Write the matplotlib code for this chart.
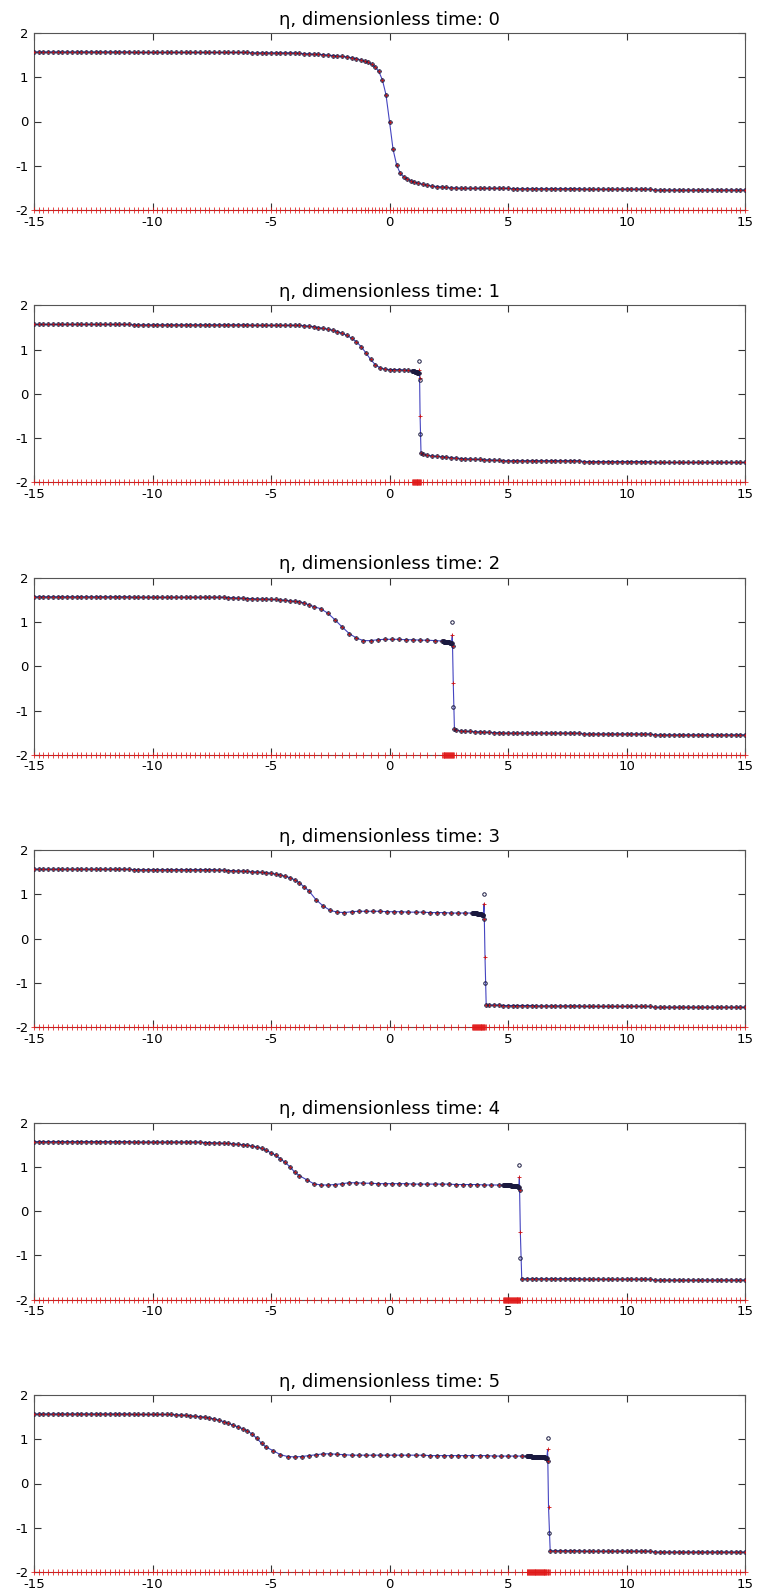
import numpy as np
import matplotlib.pyplot as plt

plt.rcParams['axes.unicode_minus'] = False
plt.rcParams['font.family'] = ['DejaVu Sans']

times = [0, 1, 2, 3, 4, 5]

# mesh pieces of each panel: first node and spacing, eta values read at the nodes below
seg_start = [
    [-15.0, -1.05, 1.2],
    [-15.0, 0.96, 1.4],
    [-15.0, -2.9, 2.26, 2.8],
    [-15.0, -3.1, 3.52, 4.2],
    [-15.0, -3.5, 4.8, 5.8],
    [-15.0, -4.9, 5.8, 7.0],
]
seg_step = [
    [0.2, 0.15, 0.2],
    [0.2, 0.02, 0.2],
    [0.2, 0.3, 0.02, 0.2],
    [0.2, 0.3, 0.02, 0.2],
    [0.2, 0.3, 0.02, 0.2],
    [0.2, 0.3, 0.02, 0.2],
]

eta_t0 = [
    [1.57] * 21 + [1.56] * 25 + [1.55] * 10
    + [1.54, 1.53, 1.53, 1.52, 1.52, 1.51, 1.50, 1.49, 1.48, 1.47, 1.46, 1.44, 1.42, 1.39],
    [1.36, 1.34, 1.29, 1.23, 1.13, 0.94, 0.61, 0.0, -0.63, -0.98, -1.17, -1.25, -1.30, -1.34, -1.37],
    [-1.39, -1.42, -1.44, -1.46, -1.47, -1.48, -1.49, -1.50, -1.50, -1.51]
    + [-1.51] * 10 + [-1.52] * 15 + [-1.53] * 15 + [-1.55] * 20,
]
eta_t1 = [
    [1.57] * 21 + [1.56] * 25 + [1.55] * 9
    + [1.55, 1.55, 1.54, 1.53, 1.52, 1.50, 1.48, 1.46, 1.44, 1.41, 1.37, 1.32, 1.26,
       1.18, 1.07, 0.93, 0.78, 0.66, 0.59, 0.56, 0.55, 0.55, 0.55, 0.54, 0.53],
    [0.52, 0.52, 0.51, 0.51, 0.51, 0.50, 0.50, 0.50, 0.49, 0.49, 0.49, 0.48, 0.48, 0.48, 0.47],
    [-1.36, -1.39, -1.40, -1.41, -1.42, -1.43, -1.44, -1.45, -1.46, -1.47, -1.47, -1.48,
     -1.48, -1.49, -1.49, -1.50, -1.50] + [-1.51] * 17 + [-1.53] * 15 + [-1.55] * 20,
]
eta_t2 = [
    [1.57] * 21 + [1.56] * 20 + [1.55, 1.55, 1.54, 1.54, 1.53, 1.53, 1.52]
    + [1.52, 1.52, 1.51, 1.51, 1.50, 1.49, 1.48, 1.47, 1.46, 1.43, 1.39, 1.35],
    [1.30, 1.20, 1.05, 0.89, 0.74, 0.64, 0.58, 0.58, 0.60, 0.61, 0.61, 0.61, 0.60, 0.60,
     0.59, 0.59, 0.58, 0.57],
    [0.57] * 2 + [0.56] * 4 + [0.55] * 4 + [0.54] * 4 + [0.53] * 3 + [0.52] * 2,
    [-1.44, -1.46, -1.47, -1.47, -1.48, -1.48, -1.49, -1.49, -1.50, -1.50]
    + [-1.51] * 17 + [-1.53] * 15 + [-1.55] * 20,
]
eta_t3 = [
    [1.57] * 21 + [1.56] * 18
    + [1.55, 1.55, 1.54, 1.54, 1.53, 1.53, 1.52, 1.51, 1.51, 1.50, 1.49, 1.48, 1.46, 1.44,
       1.41, 1.38, 1.33, 1.26, 1.17, 1.08],
    [0.88, 0.74, 0.64, 0.60, 0.59, 0.61, 0.62, 0.62, 0.62, 0.62, 0.61, 0.61, 0.61, 0.60,
     0.60, 0.60, 0.59, 0.59, 0.59, 0.58, 0.58, 0.58, 0.58],
    [0.58] * 4 + [0.57] * 5 + [0.56] * 5 + [0.55] * 5 + [0.54] * 4,
    [-1.50] * 3 + [-1.51] * 7 + [-1.52] * 10 + [-1.53] * 15 + [-1.55] * 20,
]
eta_t4 = [
    [1.57] * 21 + [1.56] * 15
    + [1.55, 1.55, 1.54, 1.54, 1.53, 1.53, 1.52, 1.51, 1.50, 1.49, 1.47, 1.45, 1.42, 1.37,
       1.32, 1.26, 1.18, 1.10, 1.00, 0.88, 0.80],
    [0.71, 0.62, 0.59, 0.59, 0.60, 0.62, 0.64, 0.64, 0.63, 0.63, 0.62, 0.62, 0.62, 0.62,
     0.62, 0.61, 0.61, 0.61, 0.61, 0.61, 0.61, 0.60, 0.60, 0.60, 0.60, 0.59, 0.59, 0.59],
    [0.59] * 8 + [0.58] * 9 + [0.57] * 9 + [0.56] * 5 + [0.55] * 3,
    [-1.53] * 12 + [-1.54] * 15 + [-1.56] * 20,
]
eta_t5 = [
    [1.57] * 21 + [1.56] * 9
    + [1.55, 1.55, 1.54, 1.53, 1.52, 1.51, 1.50, 1.48, 1.46, 1.43, 1.40, 1.36, 1.32, 1.28,
       1.24, 1.19, 1.12, 1.02, 0.91, 0.82],
    [0.74, 0.65, 0.61, 0.60, 0.61, 0.63, 0.65, 0.67, 0.67, 0.66, 0.65, 0.64, 0.64, 0.64,
     0.64, 0.64, 0.64, 0.64, 0.64, 0.64, 0.64, 0.64, 0.63, 0.63, 0.63, 0.63, 0.63, 0.63,
     0.63, 0.63, 0.63, 0.62, 0.62, 0.62, 0.62, 0.62],
    [0.62] * 10 + [0.61] * 11 + [0.60] * 11 + [0.59] * 7 + [0.58] * 4,
    [-1.52] * 6 + [-1.53] * 15 + [-1.55] * 20,
]
eta_all = [eta_t0, eta_t1, eta_t2, eta_t3, eta_t4, eta_t5]

# nodes right at the front, where the two solutions differ
shock_x = [[], [1.26, 1.27, 1.29, 1.33], [2.65, 2.66, 2.69, 2.74], [3.99, 4.00, 4.03, 4.08],
           [5.48, 5.49, 5.52, 5.58], [6.67, 6.68, 6.71, 6.78]]
shock_plus = [[], [0.54, 0.37, -0.49, -1.34], [0.71, 0.45, -0.37, -1.42], [0.79, 0.45, -0.42, -1.50],
              [0.77, 0.47, -0.47, -1.53], [0.77, 0.51, -0.53, -1.52]]
shock_circ = [[], [0.74, 0.31, -0.90, -1.34], [0.99, 0.45, -0.91, -1.42], [1.02, 0.45, -1.01, -1.50],
              [1.05, 0.47, -1.06, -1.53], [1.03, 0.51, -1.11, -1.52]]

xticks = [-15, -10, -5, 0, 5, 10, 15]
yticks = [-2, -1, 0, 1, 2]


def build_nodes(starts, steps, values, sx, sp, sc):
    xs = [s + d * np.arange(len(v)) for s, d, v in zip(starts, steps, values)]
    x = np.concatenate(xs + [np.array(sx, float)])
    yv = np.concatenate([np.array(v, float) for v in values])
    yp = np.concatenate([yv, np.array(sp, float)])
    yc = np.concatenate([yv, np.array(sc, float)])
    order = np.argsort(x)
    return x[order], yp[order], yc[order]


W, H = 760, 1593
fig = plt.figure(figsize=(W / 100, H / 100), dpi=100)

for k, t in enumerate(times):
    top = 33 + 272.4 * k
    h = 177
    ax = fig.add_axes([34 / W, 1 - (top + h) / H, 711 / W, h / H])

    x, yp, yc = build_nodes(seg_start[k], seg_step[k], eta_all[k],
                            shock_x[k], shock_plus[k], shock_circ[k])

    ax.plot(x, yp, '-', color='#4444c0', lw=0.8, zorder=2)
    ax.plot(x, yp, '+', color='#d01010', ms=3.0, mew=0.6, zorder=3)
    ax.plot(x, yc, 'o', mfc='none', mec='#1a1a40', ms=2.5, mew=0.7, zorder=4)
    # the mesh itself, drawn along the bottom edge
    ax.plot(x, np.full(len(x), -2.0), '+', color='#e01818', ms=5, mew=0.55,
            clip_on=False, zorder=5)

    ax.set_xlim(-15, 15)
    ax.set_ylim(-2, 2)
    ax.set_xticks(xticks)
    ax.set_yticks(yticks)
    ax.tick_params(direction='in', top=True, right=True, length=5, width=0.8,
                   color='#333333', labelsize=9.5, pad=4)
    for sp in ax.spines.values():
        sp.set_color('#555555')
        sp.set_linewidth(0.8)
    ax.set_title(f'η, dimensionless time: {t}', fontsize=13, pad=6)

fig.savefig('out.png', dpi=100, facecolor='white')
